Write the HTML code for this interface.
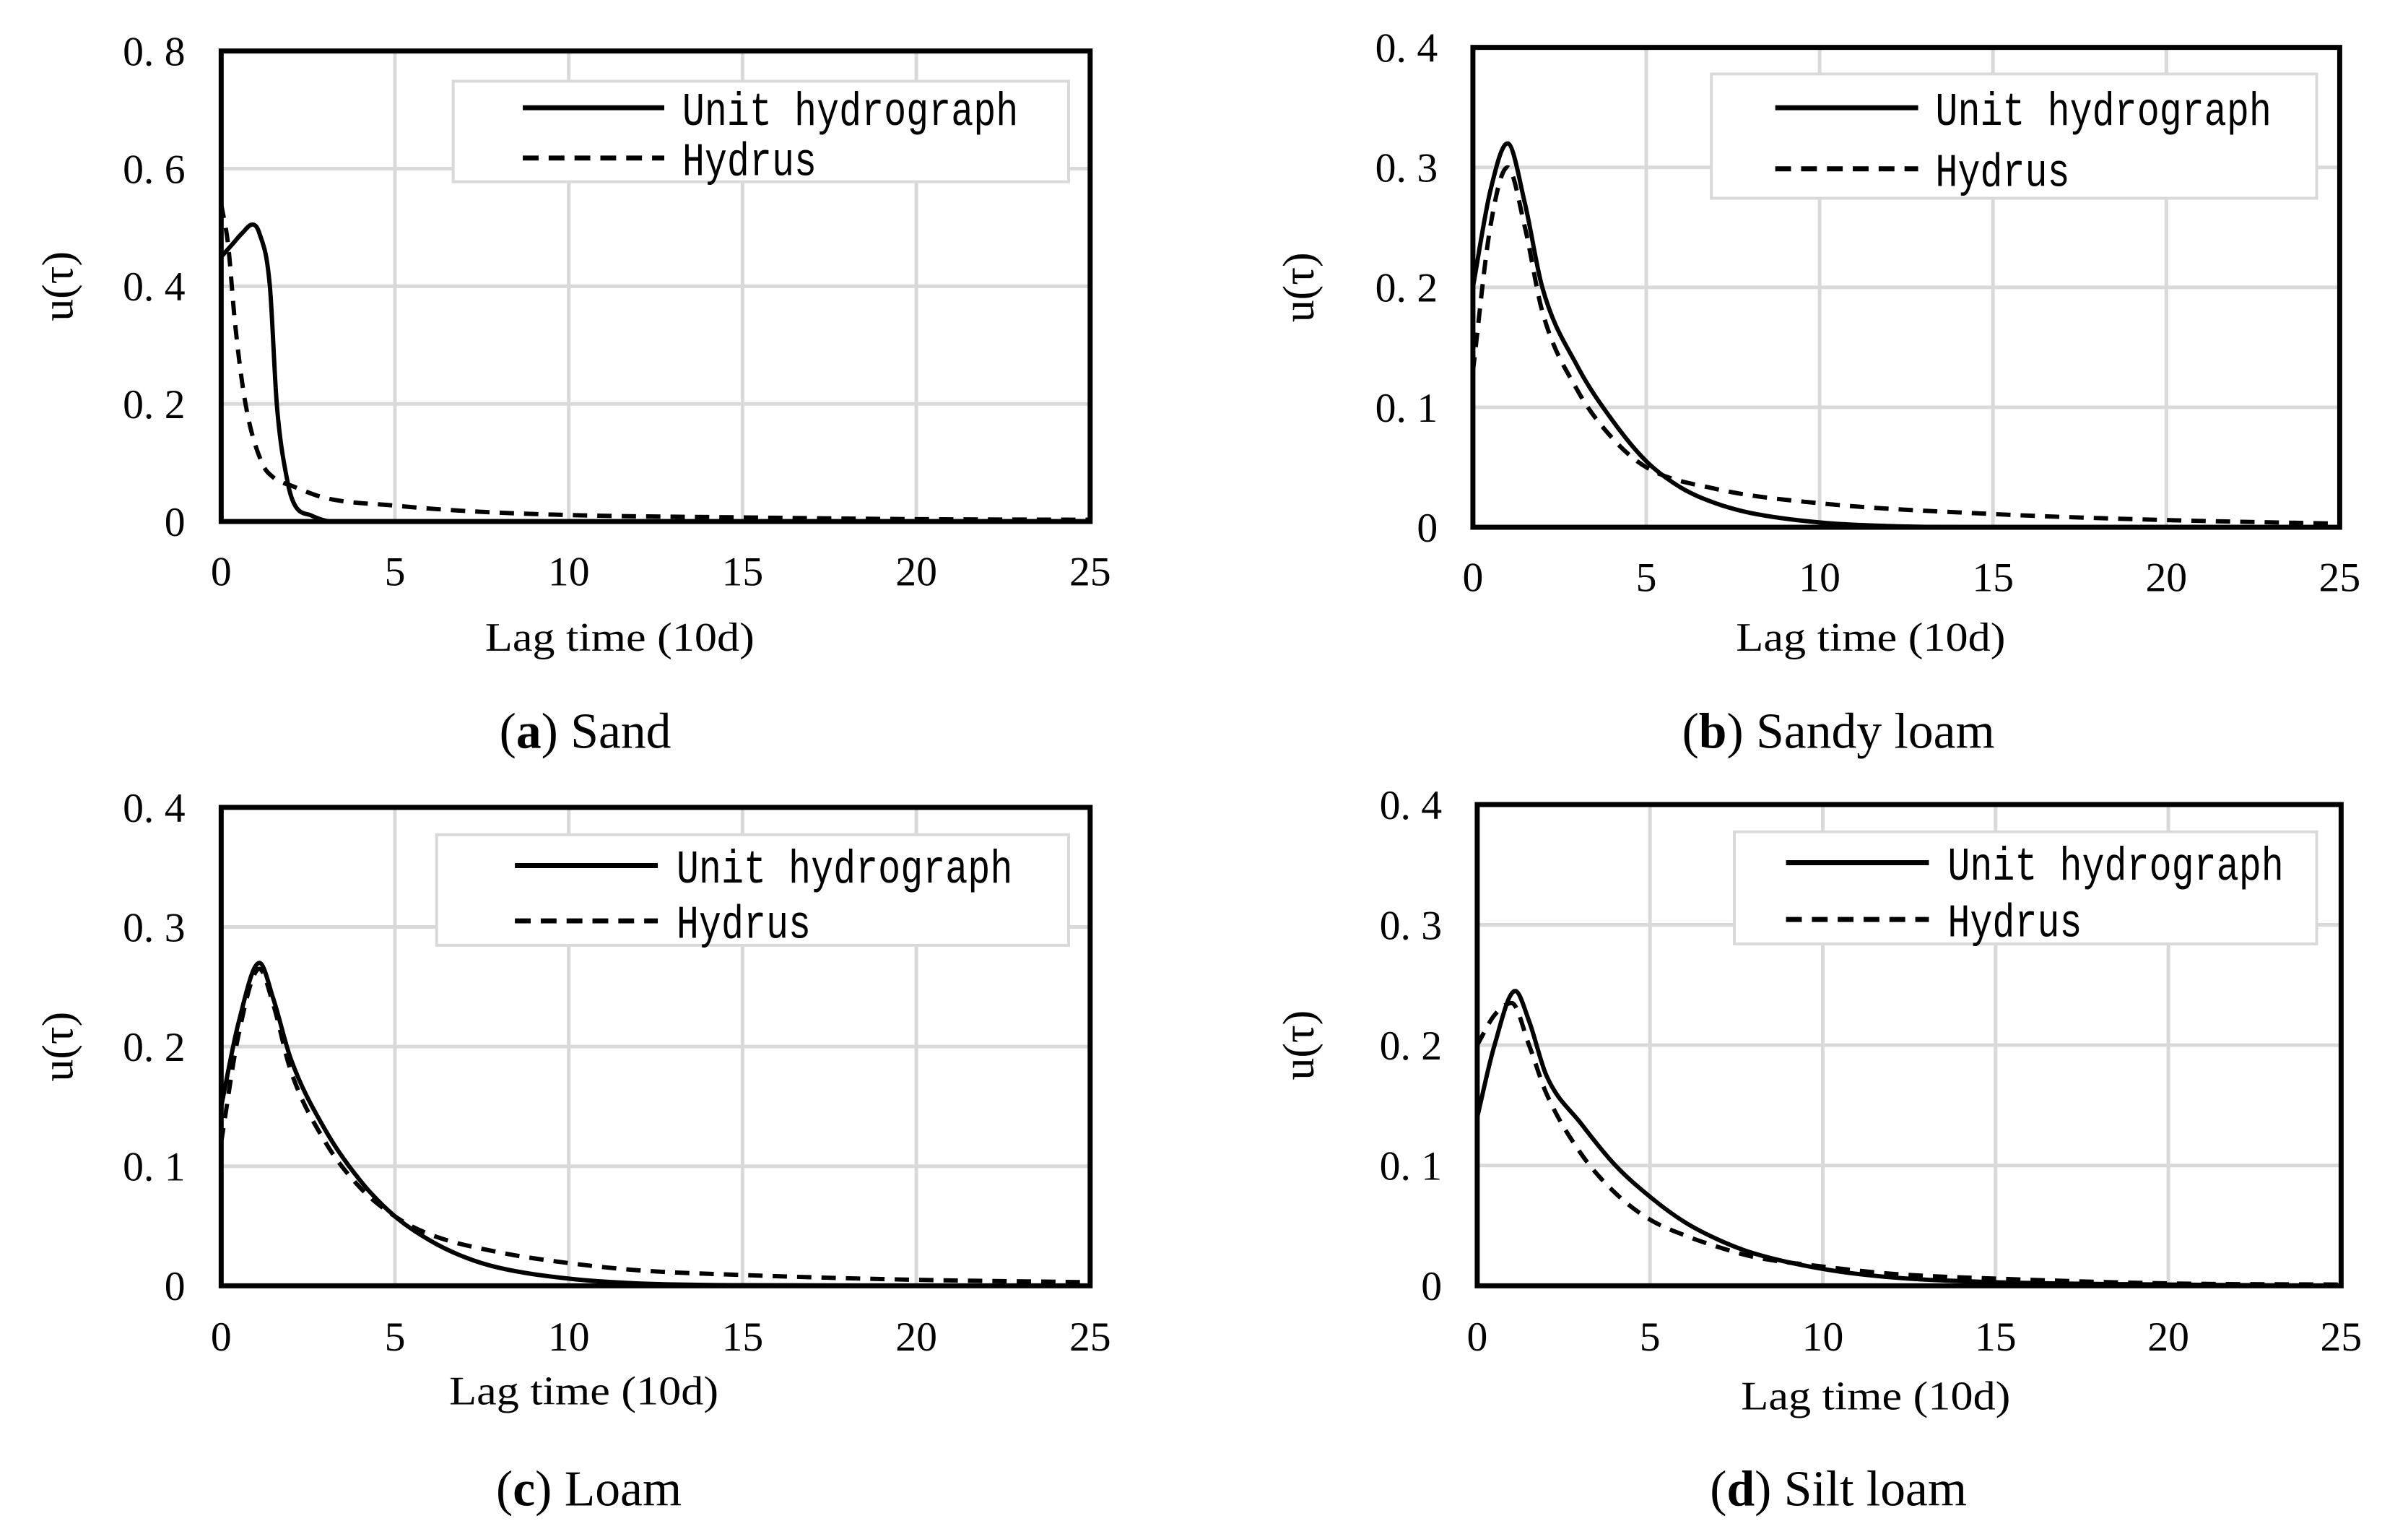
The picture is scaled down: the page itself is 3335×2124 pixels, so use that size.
<!DOCTYPE html>
<html><head><meta charset="utf-8"><style>
html,body{margin:0;padding:0;background:#fff;}
svg{display:block;}
.tick{font-family:"Liberation Serif","Noto Serif CJK SC",serif;font-size:58px;fill:#000;}
.leg{font-family:"Liberation Mono","Noto Sans CJK SC",monospace;font-size:52px;fill:#000;}
.axl{font-family:"Liberation Serif",serif;font-size:56px;fill:#000;}
.yax{font-family:"Liberation Serif",serif;font-size:62px;fill:#000;}
.cap{font-family:"Liberation Serif",serif;font-size:70px;fill:#000;}
</style></head><body>
<svg id="fig" width="3335" height="2124" viewBox="0 0 3335 2124" xmlns="http://www.w3.org/2000/svg"><g id="root" transform="scale(0.9946)"></g></svg>
<script>
// Data (x: lag time in 10d, y: u(tau))
const xA_uh = [0,0.3,0.6,0.9,1.1,1.4,1.6,1.9,2.1,2.6,3.2,25];
const yA_uh = [0.45,0.47,0.49,0.505,0.49,0.40,0.20,0.07,0.03,0.01,0,0];
const xA_hy = [0,0.2,0.4,0.7,1.17,1.5,2.06,3,5,7,10,15,20,25];
const yA_hy = [0.54,0.47,0.336,0.2,0.1,0.075,0.06,0.04,0.027,0.018,0.011,0.007,0.004,0.003];
const xB_uh = [0,0.5,1,1.5,2,3,4,5,6,7,8,10,12,15,25];
const yB_uh = [0.2,0.28,0.32,0.27,0.2,0.135,0.09,0.055,0.033,0.02,0.012,0.004,0.001,0,0];
const xB_hy = [0,0.5,1,1.5,2,3,4,5,7,10,15,20,25];
const yB_hy = [0.13,0.25,0.3,0.25,0.18,0.115,0.075,0.05,0.032,0.02,0.011,0.006,0.003];
const xC_uh = [0,0.5,1.1,1.5,2,3,4,5,6,7,8,10,12,15,25];
const yC_uh = [0.15,0.22,0.27,0.24,0.19,0.13,0.088,0.058,0.038,0.024,0.015,0.006,0.002,0.0005,0];
const xC_hy = [0,0.5,1.1,1.5,2,3,4,5,6,8,10,12,15,20,25];
const yC_hy = [0.12,0.21,0.265,0.235,0.18,0.12,0.082,0.058,0.043,0.028,0.019,0.013,0.009,0.005,0.003];
const xD_uh = [0,0.5,1.1,1.5,2,3,4,5,6,7,8,10,12,15,20,25];
const yD_uh = [0.14,0.2,0.245,0.22,0.175,0.135,0.1,0.074,0.053,0.038,0.027,0.014,0.007,0.003,0.001,0];
const xD_hy = [0,0.5,1,1.5,2,3,4,5,6,7,8,10,12,15,20,25];
const yD_hy = [0.2,0.225,0.235,0.2,0.16,0.11,0.077,0.055,0.042,0.032,0.024,0.016,0.01,0.006,0.002,0.001];
const xTicks = [0,5,10,15,20,25];
const yTicksA = [0,0.2,0.4,0.6,0.8];
const yTicksB = [0,0.1,0.2,0.3,0.4];
const legendLabels = ["Unit hydrograph","Hydrus"];

const NS="http://www.w3.org/2000/svg";
const root=document.getElementById('root');
function mk(tag,at,parent){const e=document.createElementNS(NS,tag);for(const k in at)e.setAttribute(k,at[k]);(parent||root).appendChild(e);return e;}
function fmt(v){return v===0?"0":v.toFixed(1).replace('.', '. ');}
function smooth(p){
  const n=p.length,d=[],m=[];
  for(let i=0;i<n-1;i++)d.push((p[i+1][1]-p[i][1])/(p[i+1][0]-p[i][0]));
  m[0]=d[0];m[n-1]=d[n-2];
  for(let i=1;i<n-1;i++)m[i]=(d[i-1]*d[i]<=0)?0:(d[i-1]+d[i])/2;
  for(let i=0;i<n-1;i++){
    if(d[i]===0){m[i]=0;m[i+1]=0;continue;}
    const a=m[i]/d[i],b=m[i+1]/d[i],s=a*a+b*b;
    if(s>9){const t=3/Math.sqrt(s);m[i]=t*a*d[i];m[i+1]=t*b*d[i];}
  }
  let s="M"+p[0][0].toFixed(1)+","+p[0][1].toFixed(1);
  for(let i=0;i<n-1;i++){
    const h=(p[i+1][0]-p[i][0])/3;
    s+=" C"+(p[i][0]+h).toFixed(1)+","+(p[i][1]+m[i]*h).toFixed(1)+" "+(p[i+1][0]-h).toFixed(1)+","+(p[i+1][1]-m[i+1]*h).toFixed(1)+" "+p[i+1][0].toFixed(1)+","+p[i+1][1].toFixed(1);
  }
  return s;
}
function panel(cfg){
  const g=mk('g',{});
  
  
  const X=v=>cfg.x0+(cfg.x1-cfg.x0)*v/25;
  const Y=v=>cfg.y1-(cfg.y1-cfg.y0)*v/cfg.ymax;
  xTicks.forEach(t=>{if(t>0&&t<25){const l=mk('line',{x1:X(t),x2:X(t),y1:cfg.y0,y2:cfg.y1,stroke:'#d9d9d9','stroke-width':5},g);
    }});
  cfg.yt.forEach(t=>{if(t>0&&t<cfg.ymax){const l=mk('line',{x1:cfg.x0,x2:cfg.x1,y1:Y(t),y2:Y(t),stroke:'#d9d9d9','stroke-width':5},g);
    }});
  cfg.yt.forEach(t=>{const tx=mk('text',{x:cfg.ylx,y:Y(t)+20,'text-anchor':'end',class:'tick'},g);tx.textContent=fmt(t);
    });
  xTicks.forEach(t=>{const tx=mk('text',{x:X(t),y:cfg.xty,'text-anchor':'middle',class:'tick'},g);tx.textContent=String(t);
    });
  const lg=mk('g',{},g);
  
  mk('rect',{x:cfg.lg[0],y:cfg.lg[1],width:cfg.lg[2]-cfg.lg[0],height:cfg.lg[3]-cfg.lg[1],fill:'#fff',stroke:'#d9d9d9','stroke-width':4},lg);
  [0,1].forEach(i=>{
    const ry=cfg.lr[i];
    const ln=mk('line',{x1:cfg.ll[0],x2:cfg.ll[1],y1:ry,y2:ry,stroke:'#000','stroke-width':7},lg);
    if(i===1)ln.setAttribute('stroke-dasharray','22 14');
    
    const tx=mk('text',{x:cfg.lt,y:ry+19,class:'leg',transform:`translate(0,${ry}) scale(1,1.25) translate(0,${-ry})`},lg);tx.textContent=legendLabels[i];
    
  });
  const uh=cfg.uh[0].map((v,i)=>[X(v),Y(cfg.uh[1][i])]);
  const hy=cfg.hy[0].map((v,i)=>[X(v),Y(cfg.hy[1][i])]);
  const ph=mk('path',{d:smooth(hy),fill:'none',stroke:'#000','stroke-width':6,'stroke-dasharray':'20 14'},g);
  
  const pu=mk('path',{d:smooth(uh),fill:'none',stroke:'#000','stroke-width':6},g);
  
  const fr=mk('rect',{x:cfg.x0,y:cfg.y0,width:cfg.x1-cfg.x0,height:cfg.y1-cfg.y0,fill:'none',stroke:'#000','stroke-width':7},g);
  
  const yl=mk('text',{x:0,y:0,'text-anchor':'middle',class:'yax',transform:`translate(${cfg.ylab+20},${(cfg.y0+cfg.y1)/2}) rotate(-90)`},g);
  yl.textContent='u(τ)';
  const xl=mk('text',{x:cfg.xl[0],y:cfg.xl[1]+18,'text-anchor':'middle',class:'axl',textLength:375,lengthAdjust:'spacingAndGlyphs'},g);
  xl.textContent='Lag time (10d)';
  const cp=mk('text',{x:cfg.cap[0],y:cfg.cap[1]+24,'text-anchor':'middle',class:'cap'},g);
  const b=document.createElementNS(NS,'tspan');b.textContent=cfg.letter;b.setAttribute('font-weight','bold');
  cp.appendChild(document.createTextNode('('));cp.appendChild(b);cp.appendChild(document.createTextNode(') '+cfg.name));
  
}
panel({id:'a',x0:308,x1:1518,y0:71,y1:726,ymax:0.8,yt:yTicksA,ylx:258,xty:815,ylab:81,
  lg:[631,113,1488,253],lr:[150,220],ll:[728,925],lt:950,uh:[xA_uh,yA_uh],hy:[xA_hy,yA_hy],
  xl:[863,888],cap:[815,1017],letter:'a',name:'Sand'});
panel({id:'b',x0:2051,x1:3258,y0:66,y1:734,ymax:0.4,yt:yTicksB,ylx:2002,xty:823,ylab:1809,
  lg:[2383,103,3226,276],lr:[150,235],ll:[2472,2671],lt:2695,uh:[xB_uh,yB_uh],hy:[xB_hy,yB_hy],
  xl:[2605,888],cap:[2560,1017],letter:'b',name:'Sandy loam'});
panel({id:'c',x0:308,x1:1518,y0:1124,y1:1790,ymax:0.4,yt:yTicksB,ylx:258,xty:1880,ylab:81,
  lg:[608,1162,1488,1316],lr:[1205,1282],ll:[717,916],lt:942,uh:[xC_uh,yC_uh],hy:[xC_hy,yC_hy],
  xl:[813,1937],cap:[820,2072],letter:'c',name:'Loam'});
panel({id:'d',x0:2057,x1:3260,y0:1120,y1:1790,ymax:0.4,yt:yTicksB,ylx:2008,xty:1880,ylab:1809,
  lg:[2415,1158,3226,1314],lr:[1201,1280],ll:[2487,2686],lt:2712,uh:[xD_uh,yD_uh],hy:[xD_hy,yD_hy],
  xl:[2612,1944],cap:[2560,2072],letter:'d',name:'Silt loam'});
</script>
</body></html>
